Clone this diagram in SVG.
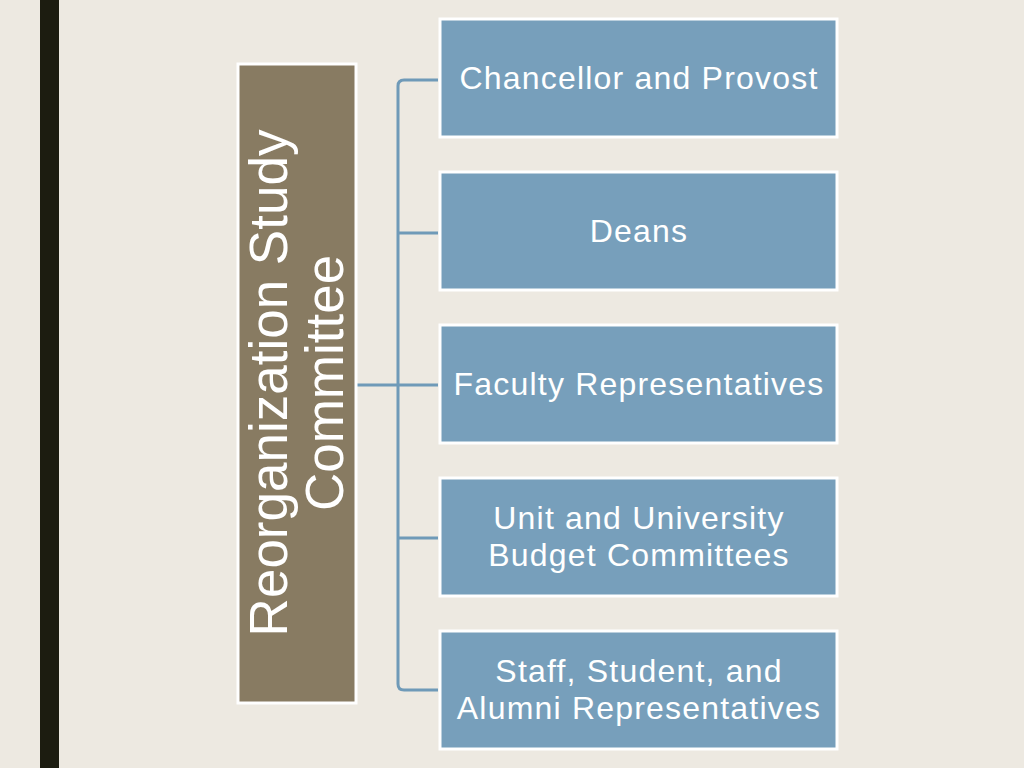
<svg xmlns="http://www.w3.org/2000/svg" width="1024" height="768" viewBox="0 0 1024 768">
<style>
.box{fill:#779fbb;stroke:#ffffff;stroke-width:3}
.t{fill:#ffffff;font-family:"Liberation Sans",Arial,sans-serif;font-size:32px;letter-spacing:1.2px;text-anchor:middle}
.v{fill:#ffffff;font-family:"Liberation Sans",Arial,sans-serif;font-size:53px;text-anchor:middle}
.c{fill:none;stroke:#6f9ab8;stroke-width:3;stroke-linejoin:round}
</style>
<rect width="1024" height="768" fill="#ede9e1"/>
<rect x="40" y="0" width="19" height="768" fill="#1c1c10"/>
<g id="connectors">
<path class="c" d="M356 385 H398"/>
<path class="c" d="M438 80 H404 Q398 80 398 86 V684 Q398 690 404 690 H438"/>
<path class="c" d="M398 233 H438 M398 385 H438 M398 538 H438"/>
</g>
<g id="root">
<rect x="238" y="64" width="118" height="639" fill="#887b62" stroke="#ffffff" stroke-width="3"/>
<text class="v" transform="translate(287 383) rotate(-90)">Reorganization Study</text>
<text class="v" transform="translate(343 383) rotate(-90)">Committee</text>
</g>
<g id="n1"><rect class="box" x="440" y="19" width="397" height="118"/><text class="t" x="639" y="89">Chancellor and Provost</text></g>
<g id="n2"><rect class="box" x="440" y="172" width="397" height="118"/><text class="t" x="639" y="242">Deans</text></g>
<g id="n3"><rect class="box" x="440" y="325" width="397" height="118"/><text class="t" x="639" y="395">Faculty Representatives</text></g>
<g id="n4"><rect class="box" x="440" y="478" width="397" height="118"/><text class="t" x="639" y="529">Unit and University</text><text class="t" x="639" y="566">Budget Committees</text></g>
<g id="n5"><rect class="box" x="440" y="631" width="397" height="118"/><text class="t" x="639" y="682">Staff, Student, and</text><text class="t" x="639" y="719">Alumni Representatives</text></g>
</svg>
